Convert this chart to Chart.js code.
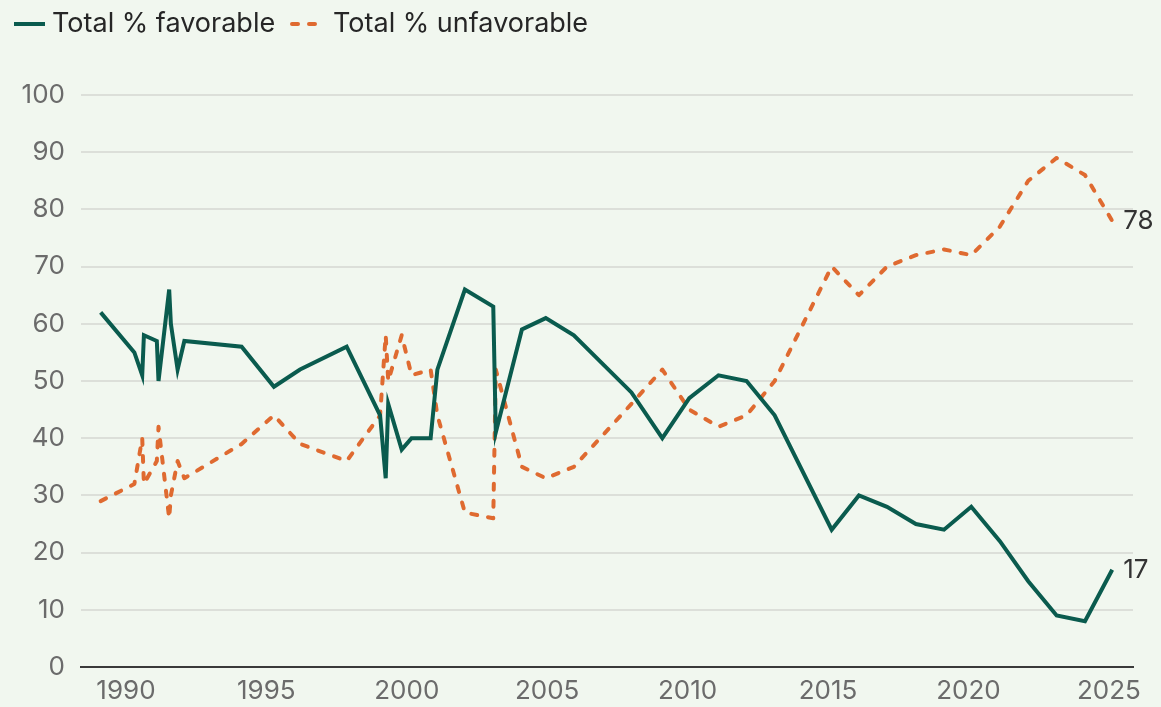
<!DOCTYPE html>
<html>
<head>
<meta charset="utf-8">
<script src="https://cdn.jsdelivr.net/npm/chart.js@4/dist/chart.umd.min.js"></script>
<style>
  html, body { margin: 0; padding: 0; background: #f1f7ef; }
  #wrap { position: relative; width: 1161px; height: 707px; }
</style>
</head>
<body>
<div id="wrap"><canvas id="chart"></canvas></div>
<script>
// poll dates (decimal years) and the two series
var POLL_YEARS = [1989.1, 1990.3, 1990.58, 1990.64, 1991.1, 1991.16, 1991.54, 1991.6, 1991.84, 1992.08,
  1994.12, 1995.27, 1996.2, 1997.86, 1999.05, 1999.25, 1999.34, 1999.82, 2000.17, 2000.85,
  2001.09, 2002.07, 2003.08, 2003.17, 2004.1, 2004.95, 2005.95, 2008.0, 2009.1, 2010.06,
  2011.1, 2012.1, 2013.1, 2015.13, 2016.1, 2017.1, 2018.13, 2019.13, 2020.1, 2021.12,
  2022.13, 2023.14, 2024.15, 2025.12];
var FAVORABLE = [62, 55, 51, 58, 57, 50, 66, 60, 52, 57,
  56, 49, 52, 56, 44, 33, 46, 38, 40, 40,
  52, 66, 63, 41, 59, 61, 58, 48, 40, 47,
  51, 50, 44, 24, 30, 28, 25, 24, 28, 22,
  15, 9, 8, 17];
var UNFAVORABLE = [29, 32, 40, 32, 36, 42, 26, 30, 36, 33,
  39, 44, 39, 36, 44, 58, 50, 58, 51, 52,
  44, 27, 26, 52, 35, 33, 35, 46, 52, 45,
  42, 44, 50, 70, 65, 70, 72, 73, 72, 77,
  85, 89, 86, 78];
var X_TICKS = [1990, 1995, 2000, 2005, 2010, 2015, 2020, 2025];
var SERIES_LABELS = ['Total % favorable', 'Total % unfavorable'];

var GREEN = '#0a5b4e';
var ORANGE = '#df6a30';
var FONT = "Inter, 'Noto Sans', sans-serif";
var DASH = [6, 11];

function toPoints(vals) {
  return vals.map(function(v, i) { return { x: POLL_YEARS[i], y: v }; });
}

// legend row at the top: line sample + label for each series
var topLegend = {
  id: 'topLegend',
  afterDraw: function(chart) {
    var ctx = chart.ctx;
    var items = [
      { x0: 14, x1: 45, textX: 52, dash: [] , cap: 'butt' },
      { x0: 292, x1: 316, textX: 333, dash: DASH, cap: 'round' }
    ];
    ctx.save();
    chart.data.datasets.forEach(function(ds, i) {
      var it = items[i];
      ctx.beginPath();
      ctx.setLineDash(it.dash);
      ctx.lineCap = it.cap;
      ctx.lineWidth = 4;
      ctx.strokeStyle = ds.borderColor;
      ctx.moveTo(it.x0, 24);
      ctx.lineTo(it.x1, 24);
      ctx.stroke();
      ctx.setLineDash([]);
      ctx.font = '27px ' + FONT;
      ctx.fillStyle = '#262626';
      ctx.textAlign = 'left';
      ctx.textBaseline = 'alphabetic';
      ctx.fillText(ds.label, it.textX, 32);
    });
    ctx.restore();
  }
};

// last value printed next to the end of each line
var endLabels = {
  id: 'endLabels',
  afterDatasetsDraw: function(chart) {
    var ctx = chart.ctx;
    ctx.save();
    ctx.font = '26px ' + FONT;
    ctx.fillStyle = '#333333';
    ctx.textAlign = 'left';
    ctx.textBaseline = 'middle';
    chart.data.datasets.forEach(function(ds, i) {
      var meta = chart.getDatasetMeta(i);
      var pt = meta.data[meta.data.length - 1];
      var last = ds.data[ds.data.length - 1];
      ctx.fillText(String(last.y), pt.x + 11, pt.y);
    });
    ctx.restore();
  }
};

new Chart(document.getElementById('chart'), {
  type: 'line',
  data: {
    datasets: [
      {
        label: SERIES_LABELS[0],
        data: toPoints(FAVORABLE),
        borderColor: GREEN,
        backgroundColor: GREEN,
        borderWidth: 4,
        borderJoinStyle: 'miter',
        pointRadius: 0,
        tension: 0
      },
      {
        label: SERIES_LABELS[1],
        data: toPoints(UNFAVORABLE),
        borderColor: ORANGE,
        backgroundColor: ORANGE,
        borderWidth: 4,
        borderDash: DASH,
        borderCapStyle: 'round',
        borderJoinStyle: 'round',
        pointRadius: 0,
        tension: 0
      }
    ]
  },
  options: {
    responsive: true,
    maintainAspectRatio: false,
    animation: false,
    layout: { padding: { left: 0, right: 28, top: 95, bottom: 0 } },
    plugins: {
      tooltip: { enabled: false },
      legend: { display: false }
    },
    scales: {
      x: {
        type: 'linear',
        min: 1988.4,
        max: 2025.86,
        afterFit: function(scale) { scale.height = 40; },
        afterBuildTicks: function(scale) {
          scale.ticks = X_TICKS.map(function(v) { return { value: v }; });
        },
        grid: { display: false, drawTicks: false },
        border: { display: true, color: '#3a3a3a', width: 2 },
        ticks: {
          padding: 9,
          color: '#6b6b6b',
          font: { family: FONT, size: 26 },
          maxRotation: 0,
          autoSkip: false,
          callback: function(v) { return String(v); }
        }
      },
      y: {
        min: 0,
        max: 100,
        afterFit: function(scale) { scale.width = 81; },
        grid: { color: '#dcdfd9', lineWidth: 2, drawTicks: false },
        border: { display: false },
        ticks: {
          stepSize: 10,
          padding: 16,
          color: '#6b6b6b',
          font: { family: FONT, size: 26 }
        }
      }
    }
  },
  plugins: [topLegend, endLabels]
});
</script>
</body>
</html>
